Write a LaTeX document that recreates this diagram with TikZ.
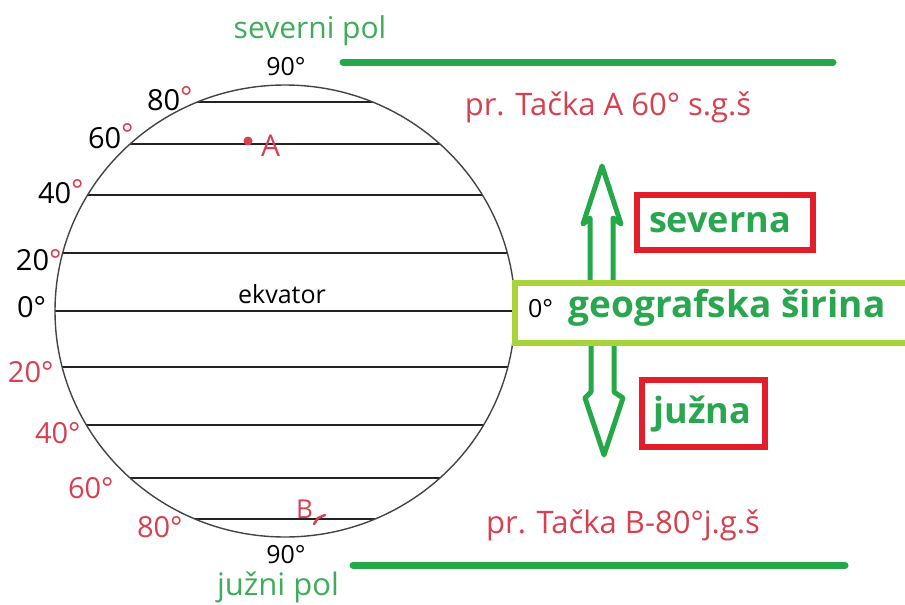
\documentclass[tikz,border=0pt]{standalone}
\usepackage{fontspec}
\setmainfont{Open Sans}
\definecolor{lgreen}{RGB}{36,168,72}
\definecolor{tgreen}{RGB}{62,172,88}
\definecolor{bgreen}{RGB}{42,166,80}
\definecolor{limeg}{RGB}{166,212,58}
\definecolor{boxred}{RGB}{226,30,42}
\definecolor{tred}{RGB}{214,64,80}
\definecolor{gridk}{RGB}{35,35,35}
\begin{document}
\begin{tikzpicture}[x=1pt,y=-1pt,
  every node/.style={inner sep=0pt,outer sep=0pt},
  fs/.style={font=\fontsize{#1}{#1}\selectfont},
  lab/.style={fs=29,anchor=base west,text=black},
  rlab/.style={fs=29,anchor=base west,text=tred},
  poleline/.style={lgreen,line width=7,line cap=round},
  hollowarrow/.style={lgreen,line width=5,fill=white,line join=round},
  redbox/.style={draw=boxred,line width=6,fill=white},
  btext/.style={fs=36,font=\fontsize{36}{36}\selectfont\bfseries,text=bgreen,anchor=base}]
\useasboundingbox (0,0) rectangle (905,605);
\fill[white] (0,0) rectangle (905,605);

% pole texts and lines
\node[fs=30,text=tgreen,anchor=base] (np) at (310,38) {severni pol};
\coordinate (t1) at (343,62); \coordinate (t2) at (833,62);
\draw[poleline] (t1) -- (t2);
\node[fs=31,text=tgreen,anchor=base] (sp) at (278,595) {južni pol};
\coordinate (b1) at (353,565); \coordinate (b2) at (845,565);
\draw[poleline] (b1) -- (b2);

% globe
\begin{scope}
\clip (285,311) ellipse [x radius=230, y radius=226];
\foreach \yy in {102,144,195,253,311,367,425,478,519}
  \draw[gridk,line width=2.2] (0,\yy) -- (600,\yy);
\end{scope}
\draw[gridk!85,line width=1.4] (285,311) ellipse [x radius=230, y radius=226];

% latitude labels
\node[fs=25,anchor=base] (n90) at (286,75) {90°};
\node[fs=25,anchor=base] (s90) at (286,563) {90°};
\node[lab] (n80) at (147,110) {80\raisebox{3pt}{\textcolor{tred}{°}}};
\node[lab] (n60) at (88,148) {60\raisebox{4pt}{\textcolor{tred}{°}}};
\node[lab] (n40) at (38,203) {40\raisebox{3pt}{\textcolor{tred}{°}}};
\node[lab] (n20) at (16,270) {20\textcolor{tred}{°}};
\node[lab] (eq0) at (17,317) {0°};
\node[rlab] (s20) at (8,382) {20°};
\node[rlab] (s40) at (35,443) {40°};
\node[rlab] (s60) at (68,498) {60°};
\node[rlab] (s80) at (137,537) {80°};
\node[fs=25,anchor=base] (ekv) at (282,303) {ekvator};

% points A and B
\fill[tred] (248,141) circle (4.5);
\node[fs=30,text=tred,anchor=base west] (A) at (261,156) {A};
\node[fs=26,text=tred,anchor=base west] (B) at (296,518) {B};
\draw[tred,line width=2.5,line cap=round] (314,524) -- (318,518) -- (325,515);

% example texts
\node[fs=31,text=tred,anchor=base] (exA) at (608,115) {pr. Tačka A 60° s.g.š};
\node[fs=31,text=tred,anchor=base] (exB) at (623,533) {pr. Tačka B-80°j.g.š};

% arrows
\draw[hollowarrow] (590,295) -- (590,218) -- (583,224) -- (602,166) -- (621,224) -- (613,218) -- (613,295) ;
\draw[hollowarrow] (591,330) -- (591,392) -- (585,398) -- (604,455) -- (623,398) -- (614,392) -- (614,330);

% latitude box
\draw[limeg,line width=6,fill=white] (515,283) rectangle (915,343);
\node[fs=25,anchor=base west] (z0) at (528,317) {0°};
\node[btext,font=\fontsize{37}{37}\selectfont\bfseries] (gs) at (727,317) {geografska širina};

% north / south boxes
\node[redbox,minimum width=176,minimum height=55] (sevbox) at (725,222.5) {};
\node[btext] (sev) at (720,232) {severna};
\node[redbox,minimum width=123,minimum height=67] (jbox) at (703.5,413.5) {};
\node[btext] (jz) at (702.5,423) {južna};
\end{tikzpicture}
\end{document}
